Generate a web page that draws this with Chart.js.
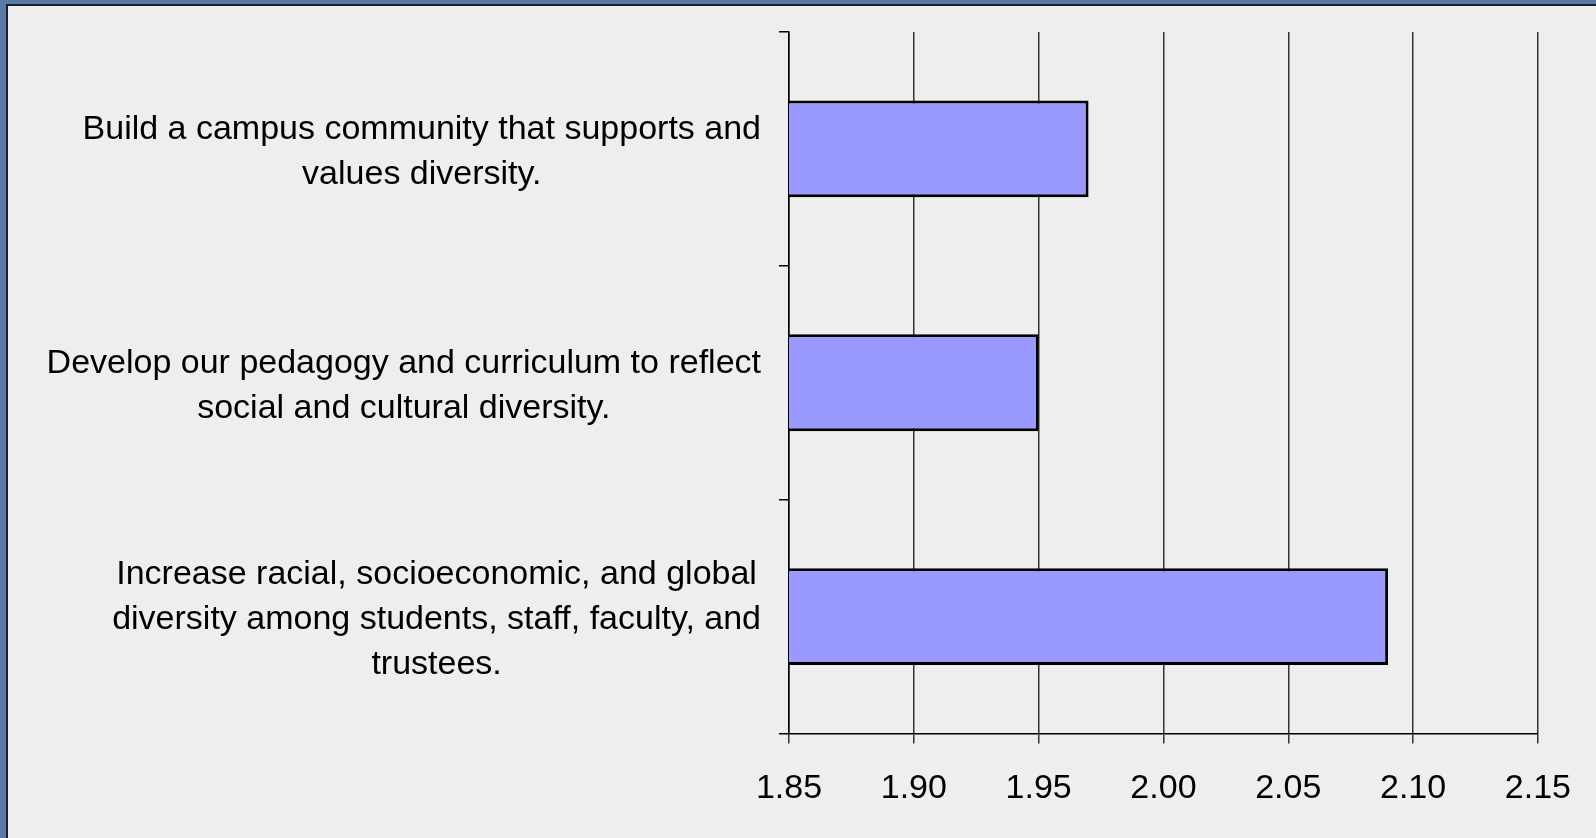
<!DOCTYPE html>
<html>
<head>
<meta charset="utf-8">
<script src="https://cdn.jsdelivr.net/npm/chart.js@4/dist/chart.umd.min.js"></script>
<style>
    html, body { margin: 0; padding: 0; width: 1596px; height: 838px; overflow: hidden; }
    body { background: #5b7ba4; position: relative; }
    #frame {
        position: absolute; left: 6px; top: 4px; right: 0; bottom: 0;
        border-left: 2px solid #1b2130; border-top: 2px solid #1b2130;
        background: #eeeeee;
    }
    #chartBox { position: absolute; left: 0; top: 0; width: 1588px; height: 832px; }
</style>
</head>
<body>
<div id="frame">
    <div id="chartBox"><canvas id="diversityChart"></canvas></div>
</div>
<script>
// chart data
const categories = [
    ['Build a campus community that supports and', 'values diversity.'],
    ['Develop our pedagogy and curriculum to reflect', 'social and cultural diversity.'],
    ['Increase racial, socioeconomic, and global', 'diversity among students, staff, faculty, and', 'trustees.']
];
const values = [1.97, 1.95, 2.09];
const xTicks = [1.85, 1.90, 1.95, 2.00, 2.05, 2.10, 2.15];

const FONT = '34px "Liberation Sans", Arial, sans-serif';

// draws the category labels, each one centred on its own widest line
const categoryLabels = {
    id: 'categoryLabels',
    afterDraw(chart) {
        const ctx = chart.ctx;
        const yScale = chart.scales.y;
        const rightEdge = chart.chartArea.left - 28;
        const lineH = 44.8;
        ctx.save();
        ctx.font = FONT;
        ctx.fillStyle = '#000';
        ctx.textAlign = 'center';
        ctx.textBaseline = 'middle';
        categories.forEach((lines, i) => {
            const y = yScale.getPixelForValue(i) + 3;
            let widest = 0;
            lines.forEach(l => { widest = Math.max(widest, ctx.measureText(l).width); });
            const cx = rightEdge - widest / 2;
            const startY = y - (lines.length - 1) * lineH / 2;
            lines.forEach((l, j) => ctx.fillText(l, cx, startY + j * lineH));
        });
        ctx.restore();
    }
};

document.addEventListener('DOMContentLoaded', function() {
    const ctx = document.getElementById('diversityChart').getContext('2d');
    new Chart(ctx, {
        type: 'bar',
        data: {
            labels: categories,
            datasets: [{
                data: values,
                backgroundColor: '#9999ff',
                borderColor: '#000000',
                borderWidth: 3,
                borderSkipped: false,
                categoryPercentage: 1,
                barPercentage: 0.414
            }]
        },
        options: {
            indexAxis: 'y',
            responsive: true,
            maintainAspectRatio: false,
            animation: false,
            layout: { padding: { top: 26, right: 58, bottom: 0, left: 0 } },
            plugins: {
                legend: { display: false },
                tooltip: { enabled: false }
            },
            scales: {
                x: {
                    min: 1.85,
                    max: 2.15,
                    afterBuildTicks: scale => { scale.ticks = xTicks.map(v => ({ value: v })); },
                    afterFit: scale => { scale.height = 104.5; },
                    grid: { color: '#333333', lineWidth: 1.5, tickLength: 10 },
                    border: { color: '#000000', width: 1.5 },
                    ticks: {
                        color: '#000',
                        font: { family: '"Liberation Sans", Arial, sans-serif', size: 34 },
                        padding: 25,
                        maxRotation: 0,
                        callback: value => Number(value).toFixed(2)
                    }
                },
                y: {
                    afterFit: scale => { scale.width = 781; },
                    grid: { drawOnChartArea: false, color: '#000000', lineWidth: 1.5, tickLength: 10 },
                    border: { color: '#000000', width: 1.5 },
                    ticks: { display: false }
                }
            }
        },
        plugins: [categoryLabels]
    });
});
</script>
</body>
</html>
